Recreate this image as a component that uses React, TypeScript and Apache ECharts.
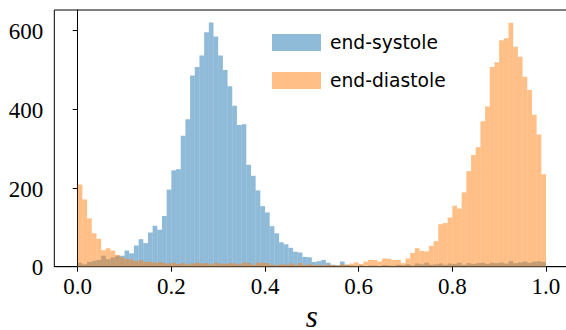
import React, { useEffect, useRef } from "react";
import * as echarts from "echarts";

const BIN_START = 0;
const BIN_WIDTH = 0.01;

const systole = [
  10, 6, 12, 15, 17, 28, 19, 24, 28, 28,
  41, 34, 54, 70, 60, 87, 104, 94, 129, 196,
  245, 248, 333, 375, 486, 508, 537, 596, 621, 585,
  537, 500, 459, 409, 360, 362, 259, 231, 194, 154,
  138, 103, 85, 62, 57, 48, 38, 36, 25, 24,
  12, 14, 17, 10, 5, 4, 13, 5, 3, 2,
  4, 2, 3, 3, 2, 4, 3, 2, 5, 4,
  6, 3, 8, 6, 10, 5, 6, 8, 5, 8,
  7, 10, 5, 9, 7, 9, 10, 7, 10, 9,
  11, 8, 14, 9, 11, 13, 10, 13, 14, 12,
];

const diastole = [
  209, 171, 123, 85, 71, 42, 47, 41, 30, 24,
  20, 18, 14, 17, 12, 13, 10, 12, 9, 8,
  10, 7, 9, 6, 8, 10, 8, 9, 6, 10,
  8, 7, 9, 8, 6, 11, 9, 5, 10, 10,
  9, 5, 4, 6, 5, 8, 5, 9, 4, 6,
  4, 5, 3, 5, 4, 3, 6, 5, 8, 11,
  7, 13, 17, 17, 13, 21, 20, 17, 17, 9,
  21, 35, 47, 40, 39, 53, 65, 108, 111, 125,
  155, 148, 189, 243, 284, 304, 370, 407, 508, 520,
  576, 581, 620, 559, 534, 483, 449, 386, 336, 235,
];

const seriesNames = ["end-systole", "end-diastole"];
const xTicks = [0, 0.2, 0.4, 0.6, 0.8, 1.0];
const yTicks = [0, 200, 400, 600];
const xAxisName = "s";

const X_MIN = -0.05;
const X_MAX = 1.05;
const Y_MIN = 0;
const Y_MAX = 652.6;

const BLUE = "rgba(31,119,180,0.5)";
const ORANGE = "rgba(255,127,14,0.5)";

function toBins(values: number[]) {
  return values.map((v, i) => [
    BIN_START + i * BIN_WIDTH,
    BIN_START + (i + 1) * BIN_WIDTH,
    v,
  ]);
}

function renderBin(color: string) {
  return (params: any, api: any) => {
    const p0 = api.coord([api.value(0), 0]);
    const p1 = api.coord([api.value(1), api.value(2)]);
    return {
      type: "rect",
      shape: {
        x: p0[0],
        y: p1[1],
        width: p1[0] - p0[0],
        height: p0[1] - p1[1],
      },
      style: { fill: color },
    };
  };
}

export default function App() {
  const ref = useRef<HTMLDivElement>(null);

  useEffect(() => {
    if (!ref.current) return;
    const chart = echarts.init(ref.current, undefined, { renderer: "svg" });
    const SERIF = "Liberation Serif";
    chart.setOption({
      animation: false,
      backgroundColor: "#fff",
      grid: {
        left: 54.3,
        top: 10,
        right: -3.4,
        bottom: 63.3,
        containLabel: false,
        outerBoundsMode: "none",
        show: true,
        borderColor: "#000",
        borderWidth: 1,
      },
      legend: {
        orient: "vertical",
        left: 272,
        top: 33,
        padding: 0,
        itemWidth: 49,
        itemHeight: 17,
        itemGap: 19,
        icon: "rect",
        data: seriesNames,
        textStyle: {
          fontFamily: "DejaVu Sans",
          fontSize: 18.7,
          color: "#000",
          lineHeight: 17,
          padding: [0, 0, 0, 4],
        },
      },
      xAxis: {
        type: "value",
        min: X_MIN,
        max: X_MAX,
        splitLine: { show: false },
        axisLine: { show: true, lineStyle: { color: "#000", width: 1 } },
        axisTick: {
          show: true,
          customValues: xTicks,
          length: 5,
          lineStyle: { color: "#000", width: 1 },
        },
        axisLabel: { show: false, customValues: xTicks },
      },
      yAxis: {
        type: "value",
        min: Y_MIN,
        max: Y_MAX,
        splitLine: { show: false },
        axisLine: { show: true, lineStyle: { color: "#000", width: 1 } },
        axisTick: {
          show: true,
          customValues: yTicks,
          length: 5,
          lineStyle: { color: "#000", width: 1 },
        },
        axisLabel: { show: false, customValues: yTicks },
      },
      series: [
        {
          name: seriesNames[0],
          type: "custom",
          color: BLUE,
          itemStyle: { color: BLUE },
          renderItem: renderBin(BLUE),
          encode: { x: [0, 1], y: 2 },
          data: toBins(systole),
        },
        {
          name: seriesNames[1],
          type: "custom",
          color: ORANGE,
          itemStyle: { color: ORANGE },
          renderItem: renderBin(ORANGE),
          encode: { x: [0, 1], y: 2 },
          data: toBins(diastole),
        },
      ],
    });

    // Tick labels and axis name placed through the chart's own scales.
    const labels: any[] = [];
    xTicks.forEach((v) => {
      const p = chart.convertToPixel({ gridIndex: 0 }, [v, Y_MIN]) as number[];
      labels.push({
        type: "text",
        x: p[0],
        y: p[1] + 20,
        silent: true,
        style: {
          text: v.toFixed(1),
          fontFamily: SERIF,
          fontSize: 23,
          fill: "#000",
          align: "center",
          verticalAlign: "middle",
        },
      });
    });
    yTicks.forEach((v) => {
      const p = chart.convertToPixel({ gridIndex: 0 }, [X_MIN, v]) as number[];
      labels.push({
        type: "text",
        x: p[0] - 11,
        y: p[1] + 1,
        silent: true,
        style: {
          text: String(v),
          fontFamily: SERIF,
          fontSize: 23,
          fill: "#000",
          align: "right",
          verticalAlign: "middle",
        },
      });
    });
    const mid = chart.convertToPixel(
      { gridIndex: 0 },
      [(X_MIN + X_MAX) / 2, Y_MIN]
    ) as number[];
    labels.push({
      type: "text",
      x: mid[0],
      y: mid[1] + 50,
      silent: true,
      style: {
        text: xAxisName,
        fontFamily: SERIF,
        fontStyle: "italic",
        fontSize: 31,
        fill: "#000",
        align: "center",
        verticalAlign: "middle",
      },
    });
    chart.setOption({ graphic: labels });

    return () => chart.dispose();
  }, []);

  return (
    <div
      ref={ref}
      style={{ position: "absolute", left: 0, top: 0, width: 566, height: 330 }}
    />
  );
}
